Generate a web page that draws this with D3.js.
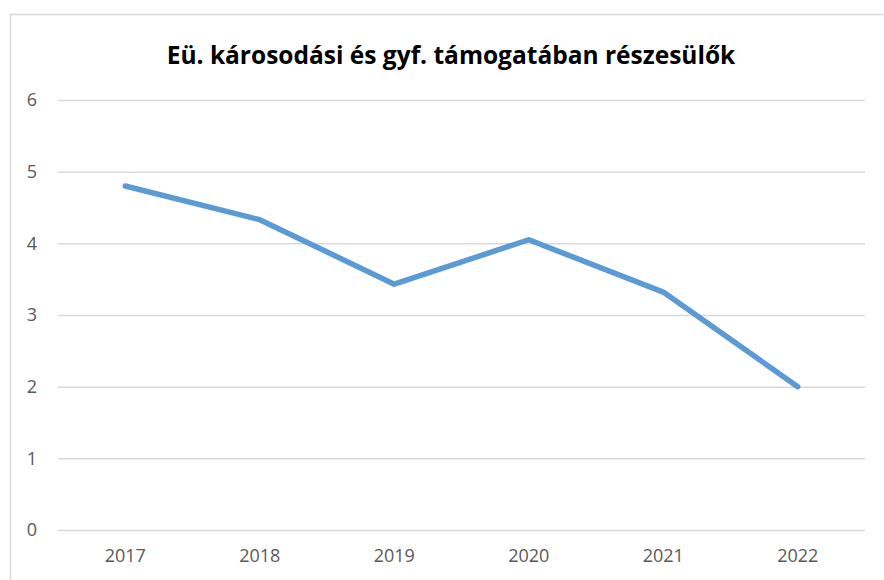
<!DOCTYPE html>
<html>
<head>
<meta charset="utf-8">
<script src="https://cdn.jsdelivr.net/npm/d3@7"></script>
<style>
  body { margin: 0; background: #fff; }
  svg { display: block; }
</style>
</head>
<body>
<svg id="chart"></svg>
<script>
// data
const years = ["2017", "2018", "2019", "2020", "2021", "2022"];
const values = [4.8, 4.33, 3.43, 4.05, 3.32, 2.0];
const yTicks = [0, 1, 2, 3, 4, 5, 6];
const title = "Eü. károsodási és gyf. támogatában részesülők";

const width = 884, height = 580;
const plot = { left: 58, right: 865, top: 100, bottom: 530 };

const svg = d3.select("#chart")
    .attr("width", width)
    .attr("height", height);

// chart frame
svg.append("rect")
    .attr("x", 10.5).attr("y", 14.5)
    .attr("width", 900).attr("height", 600)
    .attr("fill", "#fff")
    .attr("stroke", "#d9d9d9")
    .attr("stroke-width", 1.5);

// scales
const x = d3.scaleBand()
    .domain(years)
    .range([plot.left, plot.right]);

const y = d3.scaleLinear()
    .domain([0, 6])
    .range([plot.bottom, plot.top]);

// gridlines + y labels
const yAxis = d3.axisLeft(y)
    .tickValues(yTicks)
    .tickFormat(d3.format("d"))
    .tickSize(-(plot.right - plot.left))
    .tickPadding(21);

const gy = svg.append("g")
    .attr("transform", `translate(${plot.left},0)`)
    .call(yAxis);
gy.select(".domain").remove();
gy.selectAll(".tick line")
    .attr("stroke", "#d9d9d9")
    .attr("stroke-width", 1.5);
gy.selectAll(".tick text")
    .attr("fill", "#595959")
    .attr("font-family", "'Open Sans', sans-serif")
    .attr("font-size", "18px");

// x labels
const xAxis = d3.axisBottom(x).tickSize(0).tickPadding(19);
const gx = svg.append("g")
    .attr("transform", `translate(0,${plot.bottom})`)
    .call(xAxis);
gx.select(".domain").remove();
gx.selectAll(".tick text")
    .attr("fill", "#595959")
    .attr("font-family", "'Open Sans', sans-serif")
    .attr("font-size", "18px");

// line
const line = d3.line()
    .x((d, i) => x(years[i]) + x.bandwidth() / 2)
    .y(d => y(d));

svg.append("path")
    .datum(values)
    .attr("d", line)
    .attr("fill", "none")
    .attr("stroke", "#5b9bd5")
    .attr("stroke-width", 5.5)
    .attr("stroke-linecap", "round")
    .attr("stroke-linejoin", "round");

// title
svg.append("text")
    .attr("x", 451)
    .attr("y", 64)
    .attr("text-anchor", "middle")
    .attr("font-family", "'Open Sans', sans-serif")
    .attr("font-weight", "bold")
    .attr("font-size", "24.5px")
    .attr("fill", "#000")
    .text(title);
</script>
</body>
</html>
